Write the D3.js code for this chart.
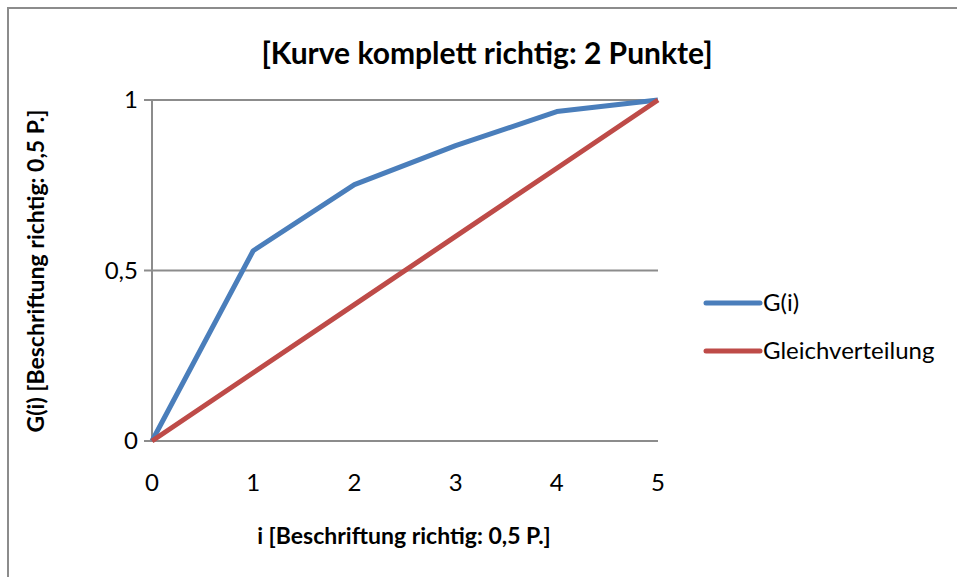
<!DOCTYPE html>
<html>
<head>
<meta charset="utf-8">
<script src="https://cdn.jsdelivr.net/npm/d3@7"></script>
<style>
  body { margin: 0; background: #fff; }
  svg { font-family: Lato, "Open Sans", sans-serif; }
</style>
</head>
<body>
<svg id="chart" width="957" height="577"></svg>
<script>
// data
const steps = [0, 1, 2, 3, 4, 5];
const gValues = [0, 0.558, 0.752, 0.866, 0.966, 1];
const evenValues = [0, 0.2, 0.4, 0.6, 0.8, 1];
const yTicks = [0, 0.5, 1];
const seriesNames = ["G(i)", "Gleichverteilung"];
const seriesColors = ["#4a7ebb", "#be4b48"];

const svg = d3.select("#chart");

// outer chart frame (runs past right/bottom edge)
svg.append("rect")
  .attr("x", 8).attr("y", 8)
  .attr("width", 1000).attr("height", 1000)
  .attr("fill", "#fff")
  .attr("stroke", "#8c8c8c")
  .attr("stroke-width", 2);

const plot = { left: 152, right: 658, top: 100, bottom: 441 };

const x = d3.scaleLinear().domain([0, 5]).range([plot.left, plot.right]);
const y = d3.scaleLinear().domain([0, 1]).range([plot.bottom, plot.top]);

// gridlines
svg.append("g")
  .selectAll("line")
  .data(yTicks)
  .join("line")
  .attr("x1", plot.left - 8)
  .attr("x2", plot.right)
  .attr("y1", d => y(d))
  .attr("y2", d => y(d))
  .attr("stroke", "#8c8c8c")
  .attr("stroke-width", 2);

// y axis line
svg.append("line")
  .attr("x1", plot.left).attr("x2", plot.left)
  .attr("y1", plot.top).attr("y2", plot.bottom)
  .attr("stroke", "#8c8c8c")
  .attr("stroke-width", 2);

// y tick labels
svg.append("g")
  .selectAll("text")
  .data(yTicks)
  .join("text")
  .attr("x", 138)
  .attr("y", d => y(d))
  .attr("dy", "0.35em")
  .attr("text-anchor", "end")
  .style("font-size", "24px")
  .text(d => d3.format(",")(d).replace(".", ","));

// x tick labels
svg.append("g")
  .selectAll("text")
  .data(steps)
  .join("text")
  .attr("x", d => x(d))
  .attr("y", 483)
  .attr("dy", "0.35em")
  .attr("text-anchor", "middle")
  .style("font-size", "24px")
  .text(d => d);

// lines
const line = d3.line()
  .x((d, i) => x(steps[i]))
  .y(d => y(d));

[gValues, evenValues].forEach((vals, i) => {
  svg.append("path")
    .datum(vals)
    .attr("fill", "none")
    .attr("stroke", seriesColors[i])
    .attr("stroke-width", 5)
    .attr("stroke-linejoin", "round")
    .attr("d", line);
});

// title
svg.append("text")
  .attr("x", 487)
  .attr("y", 53)
  .attr("dy", "0.35em")
  .attr("text-anchor", "middle")
  .style("font-size", "30px")
  .style("font-weight", "bold")
  .text("[Kurve komplett richtig: 2 Punkte]");

// axis titles
svg.append("text")
  .attr("x", 404)
  .attr("y", 536)
  .attr("dy", "0.35em")
  .attr("text-anchor", "middle")
  .style("font-size", "23px")
  .style("font-weight", "bold")
  .text("i [Beschriftung richtig: 0,5 P.]");

svg.append("text")
  .attr("transform", "translate(36,271) rotate(-90)")
  .attr("dy", "0.35em")
  .attr("text-anchor", "middle")
  .style("font-size", "23px")
  .style("font-weight", "bold")
  .text("G(i) [Beschriftung richtig: 0,5 P.]");

// legend
const legend = svg.append("g");
seriesNames.forEach((name, i) => {
  const ly = 303 + i * 48;
  legend.append("line")
    .attr("x1", 706).attr("x2", 760)
    .attr("y1", ly).attr("y2", ly)
    .attr("stroke", seriesColors[i])
    .attr("stroke-width", 5)
    .attr("stroke-linecap", "round");
  legend.append("text")
    .attr("x", 763)
    .attr("y", ly)
    .attr("dy", "0.35em")
    .style("font-size", "24px")
    .text(name);
});
</script>
</body>
</html>
